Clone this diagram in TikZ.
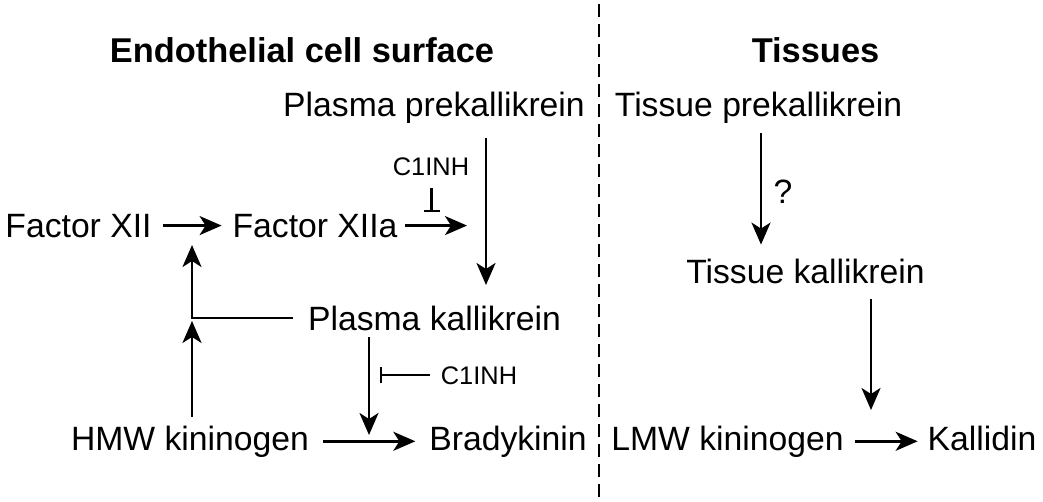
\documentclass[tikz,border=0pt]{standalone}
\usepackage{fontspec}
\setmainfont{Liberation Sans}
\usetikzlibrary{arrows.meta,positioning}

\begin{document}
\begin{tikzpicture}
	[x=0.5pt,y=-0.5pt,every node/.style={inner sep=0pt,outer sep=0pt,
		font=\fontsize{16.85}{20}\selectfont},
	sect/.style={font=\fontsize{17.2}{20}\selectfont\bfseries},
	lbl/.style={font=\fontsize{12.7}{15}\selectfont},
	arr/.style={-{Stealth[length=11pt,width=9.5pt,inset=3pt]},line width=1.25pt},
	inh/.style={-{Bar[width=8pt]},line width=1.2pt}]

	\useasboundingbox (0,0) rectangle (1043,502);

	\node[sect,anchor=base] (endo) at (302,63) {Endothelial cell surface};
	\node[sect,anchor=base] (tis) at (815.5,63) {Tissues};
	\node[anchor=base] (pre) at (434,117) {Plasma prekallikrein};
	\node[anchor=base] (tp) at (758.5,117) {Tissue prekallikrein};
	\node[lbl,anchor=base] (ci1) at (431,176) {C1INH};
	\node[anchor=base] (f12) at (78.5,237) {Factor XII};
	\node[anchor=base] (f12a) at (315,237) {Factor XIIa};
	\node[anchor=base] (tk) at (805.5,283) {Tissue kallikrein};
	\node[anchor=base] (pk) at (434.5,330) {Plasma kallikrein};
	\node[lbl,anchor=base] (ci2) at (479,384) {C1INH};
	\node[anchor=base] (hmw) at (190,450) {HMW kininogen};
	\node[anchor=base] (bk) at (508,450) {Bradykinin};
	\node[anchor=base] (lmw) at (727.5,450) {LMW kininogen};
	\node[anchor=base] (kal) at (982,450) {Kallidin};

	\coordinate (xa) at (467,226);
	\coordinate (pka) at (486,285);
	\coordinate (ta) at (431.5,212);
	\coordinate (fbt) at (192,245);
	\coordinate (bkt) at (369,435);
	\coordinate (tb) at (380,377);
	\coordinate (tq) at (761,0);
	\coordinate (tkb) at (871,410);

	\path
	\foreach \startNode/\endNode/\gap in {f12/f12a/5.5pt,hmw/bk/7pt}{
		(\startNode) edge[arr,shorten <=\gap,shorten >=\gap] (\endNode)
	};

	\draw[arr,shorten <=4pt] (f12a.east) -- (f12a.east -| xa);
	\draw[inh,shorten <=6pt] (ci1.south -| ta) -- (ta);
	\draw[arr,shorten <=7pt] (pre.south -| pka) -- (pka);
	\draw[arr,shorten <=7.5pt] (pk.west) -| (fbt);
	\draw[arr,shorten <=4.5pt,shorten >=1.5pt] (hmw.north -| fbt) -- (pk.west -| fbt);
	\draw[arr,shorten <=3.5pt] (pk.south -| bkt) -- (bkt);
	\draw[inh,shorten <=5.5pt] (ci2.west) -- (ci2.west -| tb);

	\draw[arr,shorten <=4.5pt,shorten >=7pt] (tp.south -| tq) -- node[right=6.25pt] (q) {?} (tk.north -| tq);
	\draw[arr,shorten <=8pt] (tk.south -| tkb) -- (tkb);
	\draw[arr,shorten <=5.5pt,shorten >=5pt] (lmw.east) -- (lmw.east -| kal.west);

	\draw[line width=1.2pt,dash pattern=on 6.5pt off 3.5pt] (599,4) -- (599,502);
\end{tikzpicture}
\end{document}
